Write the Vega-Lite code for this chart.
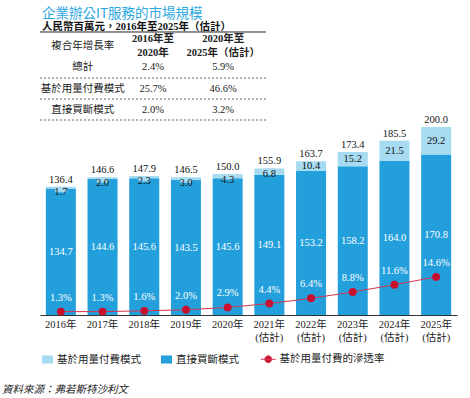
{
  "$schema": "https://vega.github.io/schema/vega-lite/v6.json",
  "padding": {"left": 2, "top": 7, "right": 4, "bottom": 6},
  "background": "white",
  "title": {
    "text": "企業辦公IT服務的市場規模",
    "subtitle": "人民幣百萬元，2016年至2025年（估計）",
    "anchor": "start",
    "frame": "group",
    "font": "Noto Sans CJK TC",
    "fontSize": 13.5,
    "fontWeight": "normal",
    "color": "#2ba7e0",
    "subtitleFont": "Liberation Serif, Noto Sans CJK TC",
    "subtitleFontSize": 10.5,
    "subtitleFontWeight": "bold",
    "subtitleColor": "#111111",
    "subtitlePadding": 1,
    "offset": -1,
    "dx": 2
  },
  "datasets": {
    "table": [
      {"row": "h", "col": "c1", "text": "複合年增長率"},
      {"row": "h", "col": "c2", "text": "2016年至\n2020年"},
      {"row": "h", "col": "c3", "text": "2020年至\n2025年（估計）"},
      {"row": "總計", "col": "c1", "text": "總計"},
      {"row": "總計", "col": "c2", "text": "2.4%"},
      {"row": "總計", "col": "c3", "text": "5.9%"},
      {"row": "基於", "col": "c1", "text": "基於用量付費模式"},
      {"row": "基於", "col": "c2", "text": "25.7%"},
      {"row": "基於", "col": "c3", "text": "46.6%"},
      {"row": "直接", "col": "c1", "text": "直接買斷模式"},
      {"row": "直接", "col": "c2", "text": "2.0%"},
      {"row": "直接", "col": "c3", "text": "3.2%"}
    ],
    "years": [
      {"year": "2016年", "total": 136.4, "rate": 0.013},
      {"year": "2017年", "total": 146.6, "rate": 0.013},
      {"year": "2018年", "total": 147.9, "rate": 0.016},
      {"year": "2019年", "total": 146.5, "rate": 0.020},
      {"year": "2020年", "total": 150.0, "rate": 0.029},
      {"year": "2021年", "total": 155.9, "rate": 0.044},
      {"year": "2022年", "total": 163.7, "rate": 0.064},
      {"year": "2023年", "total": 173.4, "rate": 0.088},
      {"year": "2024年", "total": 185.5, "rate": 0.116},
      {"year": "2025年", "total": 200.0, "rate": 0.146}
    ],
    "bars": [
      {"year": "2016年", "type": "直接買斷模式", "value": 134.7},
      {"year": "2017年", "type": "直接買斷模式", "value": 144.6},
      {"year": "2018年", "type": "直接買斷模式", "value": 145.6},
      {"year": "2019年", "type": "直接買斷模式", "value": 143.5},
      {"year": "2020年", "type": "直接買斷模式", "value": 145.6},
      {"year": "2021年", "type": "直接買斷模式", "value": 149.1},
      {"year": "2022年", "type": "直接買斷模式", "value": 153.2},
      {"year": "2023年", "type": "直接買斷模式", "value": 158.2},
      {"year": "2024年", "type": "直接買斷模式", "value": 164.0},
      {"year": "2025年", "type": "直接買斷模式", "value": 170.8},
      {"year": "2016年", "type": "基於用量付費模式", "value": 1.7},
      {"year": "2017年", "type": "基於用量付費模式", "value": 2.0},
      {"year": "2018年", "type": "基於用量付費模式", "value": 2.3},
      {"year": "2019年", "type": "基於用量付費模式", "value": 3.0},
      {"year": "2020年", "type": "基於用量付費模式", "value": 4.3},
      {"year": "2021年", "type": "基於用量付費模式", "value": 6.8},
      {"year": "2022年", "type": "基於用量付費模式", "value": 10.4},
      {"year": "2023年", "type": "基於用量付費模式", "value": 15.2},
      {"year": "2024年", "type": "基於用量付費模式", "value": 21.5},
      {"year": "2025年", "type": "基於用量付費模式", "value": 29.2}
    ]
  },
  "bounds": "flush",
  "spacing": 3,
  "vconcat": [
    {
      "width": 226,
      "height": 92,
      "data": {"name": "table"},
      "encoding": {
        "y": {
          "field": "row", "type": "nominal",
          "scale": {"type": "band", "paddingInner": 0, "paddingOuter": 0.19, "domain": ["h", "總計", "基於", "直接"]},
          "axis": null
        }
      },
      "layer": [
        {
          "transform": [{"filter": "datum.col === 'c1' && datum.row !== 'h'"}],
          "mark": {"type": "rule", "strokeDash": [2, 2], "color": "#555555", "strokeWidth": 0.9},
          "encoding": {
            "y": {"field": "row", "type": "nominal", "bandPosition": 1}
          }
        },
        {
          "transform": [{"filter": "datum.col === 'c1' && datum.row === 'h'"}],
          "mark": {"type": "rule", "color": "#222222", "strokeWidth": 1, "yOffset": -4},
          "encoding": {
            "y": {"field": "row", "type": "nominal", "bandPosition": 0}
          }
        },
        {
          "transform": [{"filter": "!(datum.row === 'h' && datum.col !== 'c1')"}],
          "mark": {"type": "text", "fontSize": 10.5, "baseline": "middle", "color": "#222222"},
          "encoding": {
            "x": {
              "field": "col", "type": "nominal",
              "scale": {"type": "point", "padding": 0.61, "domain": ["c1", "c2", "c3"]},
              "axis": null
            },
            "text": {"field": "text"},
            "fontWeight": {"condition": {"test": "datum.row === 'h' || datum.text === '總計'", "value": "bold"}, "value": "normal"}
          }
        },
        {
          "transform": [{"filter": "datum.row === 'h' && datum.col !== 'c1'"}],
          "mark": {"type": "text", "fontSize": 10.5, "fontWeight": "bold", "baseline": "middle", "lineBreak": "\n", "lineHeight": 14, "dy": -7, "color": "#222222"},
          "encoding": {
            "x": {
              "field": "col", "type": "nominal",
              "scale": {"type": "point", "padding": 0.61, "domain": ["c1", "c2", "c3"]},
              "axis": null
            },
            "text": {"field": "text"}
          }
        }
      ]
    },
    {
      "width": 417,
      "height": 188,
      "title": {
        "text": "資料來源：弗若斯特沙利文",
        "orient": "bottom",
        "anchor": "start",
        "fontStyle": "italic",
        "fontSize": 10.5,
        "fontWeight": "normal",
        "color": "#222222",
        "dx": -38,
        "offset": 42
      },
      "encoding": {
        "x": {
          "field": "year", "type": "nominal",
          "scale": {"paddingInner": 0.28, "paddingOuter": 0.14},
          "axis": {
            "title": null, "ticks": false, "labelAngle": 0, "labelPadding": 4,
            "labelFontSize": 10.5, "labelColor": "#222222", "labelLineHeight": 13,
            "domainColor": "#333333", "domainWidth": 1,
            "labelExpr": "toNumber(slice(datum.value, 0, 4)) >= 2021 ? [datum.value, '(估計)'] : datum.value"
          }
        }
      },
      "layer": [
        {
          "layer": [
            {
              "data": {"name": "bars"},
              "mark": {"type": "bar"},
              "encoding": {
                "y": {"field": "value", "type": "quantitative", "stack": "zero", "scale": {"domain": [0, 200]}, "axis": null},
                "color": {
                  "field": "type", "type": "nominal",
                  "scale": {"domain": ["基於用量付費模式", "直接買斷模式"], "range": ["#a6dbf2", "#23a0dc"]},
                  "legend": {
                    "orient": "none", "legendX": 2, "legendY": 322, "direction": "horizontal", "title": null,
                    "symbolType": "M-1,-0.73H1V0.73H-1Z", "symbolSize": 121, "symbolStrokeWidth": 0,
                    "labelFontSize": 10.5, "labelFont": "Noto Sans CJK TC", "labelColor": "#222222",
                    "columnPadding": 20, "labelOffset": 4
                  }
                },
                "order": {"field": "type", "sort": "descending"}
              }
            },
            {
              "data": {"name": "bars"},
              "transform": [
                {"filter": "datum.type === '基於用量付費模式' && datum.value < 10"},
                {"lookup": "year", "from": {"data": {"name": "years"}, "key": "year", "fields": ["total"]}}
              ],
              "mark": {"type": "point", "shape": "M-1.15,0H1.15V1.1H-1.15Z", "size": 100, "filled": true, "fill": "#a6dbf2", "opacity": 1, "strokeWidth": 0},
              "encoding": {
                "y": {"field": "total", "type": "quantitative", "scale": {"domain": [0, 200]}}
              }
            },
            {
              "data": {"name": "bars"},
              "transform": [
                {"filter": "datum.type === '基於用量付費模式' && datum.value < 10"},
                {"lookup": "year", "from": {"data": {"name": "years"}, "key": "year", "fields": ["total"]}}
              ],
              "mark": {"type": "text", "baseline": "middle", "dy": 5.5, "fontSize": 10.5, "color": "#111111"},
              "encoding": {
                "y": {"field": "total", "type": "quantitative", "scale": {"domain": [0, 200]}},
                "text": {"field": "value", "type": "quantitative", "format": ".1f"}
              }
            },
            {
              "data": {"name": "bars"},
              "mark": {"type": "text", "baseline": "middle", "fontSize": 10.5},
              "encoding": {
                "y": {"field": "value", "type": "quantitative", "stack": "zero", "bandPosition": 0.5, "scale": {"domain": [0, 200]}},
                "detail": {"field": "type"},
                "order": {"field": "type", "sort": "descending"},
                "text": {"field": "value", "type": "quantitative", "format": ".1f"},
                "color": {"condition": {"test": "datum.type === '直接買斷模式'", "value": "white"}, "value": "#111111"},
                "opacity": {"condition": {"test": "datum.type === '基於用量付費模式' && datum.value < 10", "value": 0}, "value": 1}
              }
            },
            {
              "data": {"name": "years"},
              "mark": {"type": "text", "baseline": "bottom", "dy": -2, "fontSize": 10.5, "color": "#111111"},
              "encoding": {
                "y": {"field": "total", "type": "quantitative", "scale": {"domain": [0, 200]}},
                "text": {"field": "total", "type": "quantitative", "format": ".1f"}
              }
            }
          ]
        },
        {
          "data": {"name": "years"},
          "layer": [
            {
              "mark": {"type": "line", "color": "#d6334d", "strokeWidth": 1},
              "encoding": {
                "y": {"field": "rate", "type": "quantitative", "scale": {"domain": [0, 0.72]}, "axis": null}
              }
            },
            {
              "mark": {"type": "point", "filled": true, "size": 62, "opacity": 1},
              "encoding": {
                "y": {"field": "rate", "type": "quantitative", "scale": {"domain": [0, 0.72]}},
                "fill": {
                  "datum": "基於用量付費的滲透率", "type": "nominal",
                  "scale": {"range": ["#c8102e"]},
                  "legend": {
                    "orient": "none", "legendX": 223, "legendY": 322, "direction": "horizontal", "title": null,
                    "symbolType": "M-2.2,0H2.2M-1,0A1,1 0 1,0 1,0A1,1 0 1,0 -1,0Z", "symbolSize": 46,
                    "symbolStrokeColor": "#d6334d", "symbolStrokeWidth": 1,
                    "labelFontSize": 10.5, "labelFont": "Noto Sans CJK TC", "labelColor": "#222222", "labelOffset": 6
                  }
                }
              }
            },
            {
              "mark": {"type": "text", "dy": -14, "baseline": "middle", "fontSize": 10.5, "color": "white"},
              "encoding": {
                "y": {"field": "rate", "type": "quantitative", "scale": {"domain": [0, 0.72]}},
                "text": {"field": "rate", "type": "quantitative", "format": ".1%"}
              }
            }
          ]
        }
      ],
      "resolve": {"scale": {"y": "independent"}}
    }
  ],
  "config": {
    "view": {"stroke": null},
    "font": "Liberation Serif, Noto Sans CJK TC"
  }
}
